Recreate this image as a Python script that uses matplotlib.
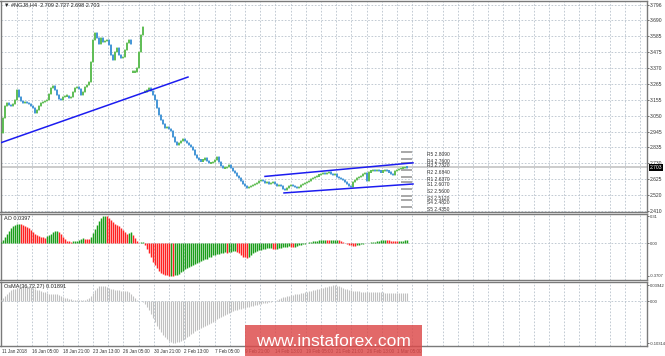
import numpy as np
import matplotlib
matplotlib.use('Agg')
from matplotlib import pyplot as plt
from matplotlib import transforms
from matplotlib.patches import Rectangle

plt.rcParams['font.family'] = ['Liberation Sans', 'DejaVu Sans']

# H4 closes, one per bar
closes = [2.934, 3.034, 3.115, 3.135, 3.122, 3.115, 3.128, 3.155, 3.222, 3.175,
          3.148, 3.135, 3.141, 3.135, 3.128, 3.115, 3.101, 3.068, 3.088, 3.115,
          3.135, 3.141, 3.148, 3.155, 3.195, 3.235, 3.249, 3.222, 3.188, 3.162,
          3.155, 3.175, 3.182, 3.182, 3.168, 3.175, 3.209, 3.235, 3.242, 3.229,
          3.188, 3.209, 3.242, 3.256, 3.276, 3.410, 3.558, 3.605, 3.571, 3.531,
          3.571, 3.544, 3.551, 3.558, 3.524, 3.457, 3.423, 3.477, 3.504, 3.457,
          3.437, 3.443, 3.491, 3.538, 3.558, 3.531, 3.343, 3.343, 3.370, 3.477,
          3.591, 3.645, 3.209, 3.222, 3.235, 3.215, 3.188, 3.155, 3.101, 3.054,
          3.021, 2.994, 2.967, 2.974, 2.961, 2.947, 2.907, 2.873, 2.853, 2.867,
          2.880, 2.894, 2.880, 2.867, 2.853, 2.840, 2.819, 2.786, 2.766, 2.752,
          2.746, 2.752, 2.766, 2.746, 2.732, 2.732, 2.739, 2.752, 2.772, 2.739,
          2.712, 2.699, 2.699, 2.705, 2.719, 2.699, 2.678, 2.665, 2.645, 2.631,
          2.611, 2.591, 2.578, 2.564, 2.571, 2.578, 2.584, 2.591, 2.598, 2.611,
          2.618, 2.611, 2.598, 2.604, 2.591, 2.598, 2.604, 2.591, 2.578, 2.584,
          2.578, 2.558, 2.551, 2.564, 2.578, 2.584, 2.578, 2.571, 2.564, 2.571,
          2.584, 2.591, 2.598, 2.604, 2.611, 2.624, 2.631, 2.638, 2.645, 2.651,
          2.658, 2.665, 2.658, 2.665, 2.672, 2.658, 2.651, 2.658, 2.638, 2.631,
          2.624, 2.618, 2.604, 2.591, 2.578, 2.571, 2.604, 2.618, 2.631, 2.638,
          2.645, 2.658, 2.665, 2.611, 2.672, 2.678, 2.685, 2.678, 2.685, 2.678,
          2.672, 2.678, 2.685, 2.678, 2.672, 2.658, 2.651, 2.678, 2.685, 2.692,
          2.699, 2.699, 2.705, 2.703]
gap_bars = [66, 72]

ao = [0.012, 0.035, 0.069, 0.104, 0.138, 0.173, 0.196, 0.207, 0.219, 0.224,
      0.219, 0.207, 0.196, 0.184, 0.173, 0.150, 0.127, 0.104, 0.092, 0.081,
      0.075, 0.069, 0.063, 0.081, 0.092, 0.109, 0.127, 0.138, 0.144, 0.127,
      0.104, 0.069, 0.046, 0.029, 0.023, 0.017, 0.023, 0.025, 0.029, 0.040,
      0.052, 0.058, 0.052, 0.046, 0.044, 0.069, 0.115, 0.161, 0.207, 0.253,
      0.285, 0.305, 0.310, 0.305, 0.288, 0.265, 0.242, 0.224, 0.207, 0.196,
      0.173, 0.150, 0.127, 0.104, 0.115, 0.127, 0.092, 0.058, 0.023, 0.006,
      0.012, 0.017, -0.023, -0.069, -0.115, -0.161, -0.207, -0.242, -0.276, -0.311,
      -0.334, -0.351, -0.362, -0.365, -0.3707, -0.366, -0.369, -0.362, -0.357, -0.345,
      -0.328, -0.311, -0.293, -0.276, -0.265, -0.253, -0.242, -0.230, -0.219, -0.207,
      -0.196, -0.190, -0.184, -0.173, -0.161, -0.150, -0.138, -0.132, -0.127, -0.121,
      -0.115, -0.109, -0.104, -0.107, -0.101, -0.098, -0.092, -0.090, -0.098, -0.115,
      -0.132, -0.150, -0.161, -0.167, -0.150, -0.132, -0.115, -0.104, -0.092, -0.081,
      -0.075, -0.069, -0.063, -0.058, -0.055, -0.052, -0.063, -0.069, -0.063, -0.058,
      -0.052, -0.046, -0.040, -0.038, -0.035, -0.040, -0.046, -0.040, -0.035, -0.023,
      -0.017, -0.012, -0.006, 0.003, 0.012, 0.017, 0.023, 0.026, 0.030, 0.035,
      0.038, 0.040, 0.043, 0.037, 0.035, 0.037, 0.039, 0.040, 0.041, 0.035,
      0.023, 0.012, 0.000, -0.009, -0.017, -0.023, -0.026, -0.029, -0.023, -0.017,
      -0.012, -0.006, 0.001, 0.003, 0.007, 0.010, 0.014, 0.017, 0.023, 0.029,
      0.035, 0.038, 0.040, 0.037, 0.035, 0.031, 0.029, 0.025, 0.023, 0.025,
      0.028, 0.030, 0.032, 0.0397]

osma = [0.0025, 0.0074, 0.0123, 0.0172, 0.0221, 0.0270, 0.0294, 0.0306, 0.0319, 0.0331,
        0.0343, 0.0343, 0.0355, 0.0368, 0.0368, 0.0355, 0.0331, 0.0306, 0.0282, 0.0270,
        0.0245, 0.0233, 0.0221, 0.0196, 0.0184, 0.0172, 0.0172, 0.0172, 0.0172, 0.0147,
        0.0123, 0.0098, 0.0086, 0.0074, 0.0061, 0.0049, 0.0037, 0.0037, 0.0029, 0.0025,
        0.0025, 0.0029, 0.0037, 0.0049, 0.0074, 0.0123, 0.0196, 0.0270, 0.0331, 0.0368,
        0.0380, 0.0380, 0.0368, 0.0343, 0.0319, 0.0306, 0.0294, 0.0282, 0.0270, 0.0270,
        0.0257, 0.0257, 0.0257, 0.0245, 0.0221, 0.0172, 0.0123, 0.0074, 0.0037, 0.0012,
        0.0005, -0.0012, -0.0074, -0.0147, -0.0221, -0.0319, -0.0417, -0.0515, -0.0613, -0.0686,
        -0.0760, -0.0833, -0.0882, -0.0931, -0.0980, -0.1005, -0.10314, -0.1029, -0.1017, -0.1005,
        -0.0980, -0.0956, -0.0931, -0.0894, -0.0858, -0.0821, -0.0784, -0.0747, -0.0711, -0.0686,
        -0.0662, -0.0637, -0.0613, -0.0588, -0.0564, -0.0539, -0.0515, -0.0490, -0.0453, -0.0417,
        -0.0392, -0.0368, -0.0343, -0.0319, -0.0294, -0.0270, -0.0245, -0.0221, -0.0208, -0.0196,
        -0.0184, -0.0172, -0.0159, -0.0147, -0.0135, -0.0123, -0.0110, -0.0098, -0.0086, -0.0074,
        -0.0061, -0.0049, -0.0044, -0.0037, -0.0025, -0.0012, 0.0000, 0.0012, 0.0037, 0.0061,
        0.0086, 0.0098, 0.0110, 0.0123, 0.0135, 0.0147, 0.0159, 0.0172, 0.0172, 0.0184,
        0.0196, 0.0208, 0.0221, 0.0233, 0.0245, 0.0257, 0.0270, 0.0282, 0.0294, 0.0306,
        0.0319, 0.0331, 0.0343, 0.0355, 0.0368, 0.0380, 0.03942, 0.0392, 0.0380, 0.0368,
        0.0343, 0.0319, 0.0306, 0.0294, 0.0282, 0.0270, 0.0257, 0.0245, 0.0245, 0.0240,
        0.0233, 0.0233, 0.0233, 0.0233, 0.0228, 0.0225, 0.0221, 0.0221, 0.0221, 0.0221,
        0.0216, 0.0211, 0.0208, 0.0208, 0.0203, 0.0201, 0.0196, 0.0196, 0.0191, 0.0191,
        0.0189, 0.0189, 0.0189, 0.01891]

price_labels = ['2.410', '2.520', '2.625', '2.730', '2.835', '2.945', '3.050',
                '3.155', '3.265', '3.370', '3.475', '3.585', '3.690', '3.796']
date_labels = ['11 Jan 2018', '16 Jan 05:00', '18 Jan 21:00', '23 Jan 13:00',
               '26 Jan 05:00', '30 Jan 21:00', '2 Feb 13:00', '7 Feb 05:00',
               '9 Feb 21:00', '14 Feb 13:00', '19 Feb 05:00', '21 Feb 21:00',
               '26 Feb 13:00', '1 Mar 05:00']
pivot_names = ['R5', 'R4', 'R3', 'R2', 'R1', 'S1', 'S2', 'S3', 'S4', 'S5']
pivot_levels = [2.8090, 2.7600, 2.7320, 2.6840, 2.6370,
                2.6070, 2.5600, 2.5120, 2.4820, 2.4350]
trend_x, trend_y = [-0.5, 93.5], [2.866, 3.309]
chan_up_x, chan_up_y = [132, 206], [2.642, 2.733]
chan_dn_x, chan_dn_y = [141.5, 206], [2.531, 2.591]
last_price = 2.703
header = '\u25bc #NGJ8,H4  2.709 2.727 2.698 2.703'
ao_label = 'AO 0.0397'
osma_label = 'OsMA(36,72,27) 0.01891'

W, H = 665, 356
fig = plt.figure(figsize=(W / 100, H / 100), dpi=100)

def rect(top, bottom):
    return [0.5 / W, 1 - bottom / H, 646.5 / W, (bottom - top) / H]

ax = fig.add_axes(rect(1, 212))
ax_ao = fig.add_axes(rect(214, 280))
ax_os = fig.add_axes(rect(282, 346))

idx = np.arange(len(closes))
grid_x = np.arange(8, 323, 7.6)
grid_kw = dict(color='#b8c2cc', lw=0.6, ls=(0, (2, 2)))

for a in (ax, ax_ao, ax_os):
    a.set_xlim(-0.25, 323)
    a.set_xticks(grid_x)
    a.set_xticklabels([])
    a.tick_params(axis='x', length=0)
    a.grid(axis='x', **grid_kw)
    a.yaxis.tick_right()
    a.tick_params(axis='y', length=1.5, width=0.5, labelsize=3.6, pad=0.6,
                  colors='#333333')
    for s in a.spines.values():
        s.set_color('#7a7a7a')
        s.set_linewidth(1.0)
    a.set_axisbelow(True)
for a in (ax_ao, ax_os):
    a.tick_params(axis='y', labelsize=3.0, pad=0.4)

# main price panel
ax.set_ylim(2.403, 3.8195)
pt = np.linspace(2.410, 3.796, len(price_labels))
ax.set_yticks(pt)
ax.set_yticklabels(price_labels)
ax.grid(axis='y', **grid_kw)
ax.axhline(last_price, color='#c8c8c8', lw=1.3, zorder=1)

opens = [closes[0]] + closes[:-1]
opens = [closes[i] if i in gap_bars else opens[i] for i in idx]
lo = np.minimum(opens, closes)
hi = np.maximum(opens, closes)
small = (hi - lo) < 0.006
lo = np.where(small, lo - 0.004, lo)
hi = np.where(small, hi + 0.004, hi)
cols = ['#45b33a' if c >= o else '#2a86d1' for o, c in zip(opens, closes)]
wick = ['#b6e0ae' if c >= o else '#9cc8ea' for o, c in zip(opens, closes)]
ax.vlines(idx, lo - 0.006, hi + 0.006, colors=wick, lw=1.2, zorder=2)
ax.vlines(idx, lo, hi, colors=cols, lw=1.1, zorder=3)

ax.plot(trend_x, trend_y, color='#1c1cf0', lw=1.1, zorder=4)
ax.plot(chan_up_x, chan_up_y, color='#1c1cf0', lw=1.1, zorder=4)
ax.plot(chan_dn_x, chan_dn_y, color='#1c1cf0', lw=1.1, zorder=4)

ax.hlines(pivot_levels, 200, 205.5, color='#a8a8a8', lw=1.4, zorder=2)
for n, lv in zip(pivot_names, pivot_levels):
    ax.text(213, lv, '%s %.4f' % (n, lv), fontsize=3.5, color='#333333',
            va='top', ha='left')

ax.text(0.006, 0.992, header, transform=ax.transAxes, fontsize=4,
        va='top', ha='left', color='#222222')
tr = transforms.blended_transform_factory(ax.transAxes, ax.transData)
ax.text(1.004, last_price, '%.3f' % last_price, transform=tr, fontsize=3.6,
        color='white', va='center', ha='left',
        bbox=dict(facecolor='black', edgecolor='none', pad=0.6))

# AO panel
ax_ao.set_ylim(-0.417, 0.333)
ao_cols = ['#1a9e1a' if i == 0 or ao[i] >= ao[i - 1] else '#ff2222'
           for i in idx]
ax_ao.vlines(idx, 0, ao, colors=ao_cols, lw=1.05, zorder=3)
ax_ao.axhline(0, **grid_kw)
ax_ao.set_yticks([0.31, 0.0, -0.3707])
ax_ao.set_yticklabels(['0.31', '0.00', '-0.3707'])
ax_ao.text(0.006, 0.97, ao_label, transform=ax_ao.transAxes, fontsize=4,
           va='top', ha='left', color='#222222')

# OsMA panel
ax_os.set_ylim(-0.1105, 0.0468)
ax_os.vlines(idx, 0, osma, colors='#c0c0c0', lw=0.8, zorder=3)
ax_os.axhline(0, **grid_kw)
ax_os.set_yticks([0.03942, 0.0, -0.10314])
ax_os.set_yticklabels(['0.03942', '0.00', '-0.10314'])
ax_os.text(0.006, 0.97, osma_label, transform=ax_os.transAxes, fontsize=4,
           va='top', ha='left', color='#222222')

# time labels
date_x = [0.5] + [8 + 7.6 * (2 * j + 1) for j in range(len(date_labels) - 1)]
trd = transforms.blended_transform_factory(ax_os.transData, ax_os.transAxes)
for dx, lab in zip(date_x, date_labels):
    ax_os.text(dx, -0.04, lab, transform=trd, fontsize=3.3, color='#333333',
               va='top', ha='left')

# watermark
fig.add_artist(Rectangle((245 / W, 0), 177 / W, 31 / H, transform=fig.transFigure,
                         facecolor='#dc4848', edgecolor='none', alpha=0.82,
                         zorder=5))
fig.text(333 / W, 15 / H, 'www.instaforex.com', color='white', fontsize=12.5,
         family='Liberation Sans', ha='center', va='center', zorder=6)

fig.savefig('out.png', dpi=100)
